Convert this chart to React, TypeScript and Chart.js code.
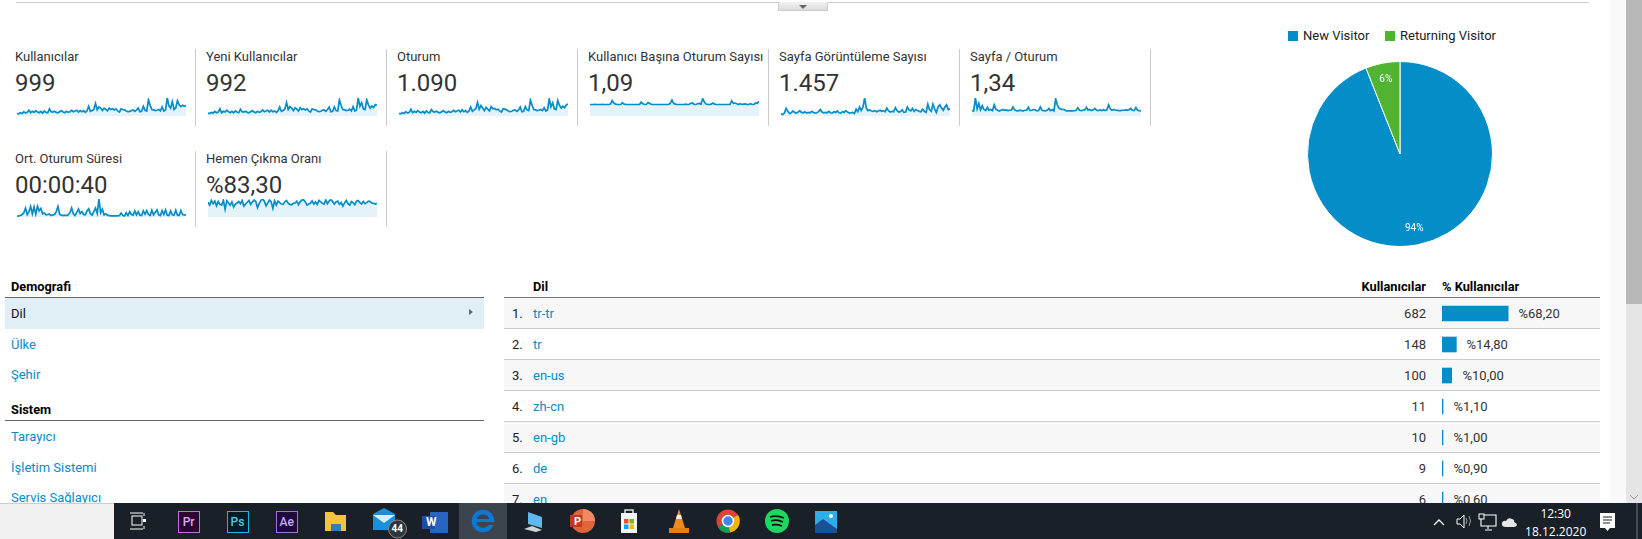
import React, { useEffect, useRef } from "react";
import { Chart, registerables } from "chart.js";

Chart.register(...registerables);

const FONT = "Roboto, sans-serif";
const BLUE = "#058dc7";
const GREEN = "#50b432";

const metricTitles = ["Kullanıcılar", "Yeni Kullanıcılar", "Oturum", "Kullanıcı Başına Oturum Sayısı", "Sayfa Görüntüleme Sayısı", "Sayfa / Oturum", "Ort. Oturum Süresi", "Hemen Çıkma Oranı"];
const metricValues = ["999", "992", "1.090", "1,09", "1.457", "1,34", "00:00:40", "%83,30"];

const usersSeries = [14,12,18,14,24,16,20,32,18,26,20,30,22,18,26,16,28,20,18,40,24,22,26,20,18,24,30,22,18,26,20,24,32,24,28,32,22,30,24,30,20,28,54,26,30,36,70,34,50,44,30,44,38,28,44,36,40,34,40,28,22,40,36,34,28,24,26,30,34,26,34,44,24,26,54,32,28,90,60,36,34,30,32,36,28,50,28,34,100,56,44,80,36,46,85,62,52,60,54,58];
const newUsersSeries = [16,14,20,16,26,18,22,40,18,26,22,32,24,18,26,18,28,22,18,38,24,22,26,20,18,24,30,22,18,26,20,24,34,24,28,32,22,32,24,28,20,28,50,26,30,38,75,36,52,44,30,46,38,28,46,36,40,34,40,28,22,40,36,34,28,24,26,32,34,26,36,50,24,26,50,30,28,90,58,36,34,30,32,38,28,52,28,34,100,54,74,40,36,90,62,44,56,48,64,60];
const sessionsSeries = [14,12,18,14,24,16,20,38,18,26,20,30,22,18,26,16,28,20,18,36,24,22,26,20,18,24,30,22,18,26,20,24,32,24,28,32,22,34,24,30,20,28,50,26,34,40,76,38,58,44,30,48,38,28,52,40,42,34,38,28,22,40,38,34,28,24,26,32,34,26,34,50,24,26,52,34,30,88,58,36,34,30,32,36,30,46,28,34,96,52,74,40,36,86,60,44,54,46,62,66];
const perUserSeries = [64,64,64,65,64,64,64,65,64,64,64,64,66,85,72,66,64,64,64,74,66,64,64,64,64,64,64,64,64,64,77,68,64,64,75,70,64,64,64,64,64,64,64,64,64,64,64,70,88,70,66,64,64,64,64,64,66,64,64,70,72,64,64,68,70,66,96,78,67,64,64,66,72,66,64,64,64,64,64,64,64,64,64,85,70,72,68,64,68,64,66,67,64,64,68,64,64,72,70,81];
const pageViewsSeries = [12,8,16,43,26,14,18,28,20,16,22,30,20,18,24,16,20,18,26,20,16,18,24,36,22,18,20,18,26,18,16,24,20,28,18,16,24,20,30,22,16,18,20,14,38,24,50,30,50,100,44,30,34,28,26,30,24,28,32,26,30,24,44,28,22,26,24,46,30,22,24,34,20,22,50,34,28,42,26,36,30,26,24,38,26,20,66,36,26,66,40,20,50,62,46,32,50,62,36,40];
const perSessionSeries = [30,28,100,40,70,34,57,36,30,48,32,36,30,62,38,32,28,32,36,32,34,30,32,32,50,34,30,28,32,30,28,32,32,48,30,32,36,34,28,30,50,32,30,28,32,42,30,36,28,95,62,44,38,36,36,30,28,28,30,28,30,32,46,32,30,32,34,48,32,36,30,34,42,32,30,34,30,36,30,34,62,40,32,36,32,32,30,30,32,32,34,32,36,42,32,30,47,32,30,28];
const durationSeries = [4,6,8,14,24,50,14,30,58,18,56,16,60,34,48,18,22,12,14,16,8,12,14,30,58,14,10,8,10,8,12,24,50,18,8,26,44,20,30,14,12,34,46,18,10,30,50,20,100,24,44,12,18,10,8,6,6,6,6,6,8,22,8,6,24,8,30,14,10,34,12,30,10,8,34,16,36,14,8,38,12,26,40,12,8,36,14,40,10,8,34,12,10,38,10,8,36,14,12,10];
const bounceSeries = [82,66,92,74,88,62,86,70,66,92,44,90,78,66,84,56,72,78,86,74,92,60,72,82,92,70,84,94,86,52,74,92,100,88,62,78,94,84,48,90,66,88,80,72,70,84,92,76,70,68,76,78,88,68,84,94,96,84,66,72,76,90,72,84,70,92,84,76,72,94,74,90,96,86,72,84,88,70,80,60,78,92,74,66,86,80,68,88,92,80,72,86,74,80,88,86,78,76,72,76];

const sparkSeries = [usersSeries, newUsersSeries, sessionsSeries, perUserSeries, pageViewsSeries, perSessionSeries, durationSeries, bounceSeries];

const visitorLabels = ["New Visitor", "Returning Visitor"];
const visitorValues = [94, 6];

const demografiItems = ["Dil", "Ülke", "Şehir"];
const sistemItems = ["Tarayıcı", "İşletim Sistemi", "Servis Sağlayıcı"];
const languages = ["tr-tr", "tr", "en-us", "zh-cn", "en-gb", "de", "en"];
const languageUsers = [682, 148, 100, 11, 10, 9, 6];
const languageShare = [68.2, 14.8, 10.0, 1.1, 1.0, 0.9, 0.6];
const languageShareText = ["%68,20", "%14,80", "%10,00", "%1,10", "%1,00", "%0,90", "%0,60"];

const metricLefts = [15, 206, 397, 588, 779, 970, 15, 206];
const sparkLefts = [17, 208, 399, 590, 781, 972, 17, 208];
const dividerXs = [195, 386, 577, 768, 959, 1150];

function T(p: { x: number; y: number; s?: number; c?: string; b?: boolean; r?: boolean; f?: string; children: React.ReactNode }) {
  const lh = 20;
  const style: React.CSSProperties = {
    position: "absolute",
    top: p.y - lh / 2,
    lineHeight: lh + "px",
    fontSize: p.s ?? 13,
    color: p.c ?? "#222",
    fontWeight: p.b ? 700 : 400,
    fontFamily: p.f ?? FONT,
    whiteSpace: "nowrap",
  };
  if (p.r) style.right = 1642 - p.x;
  else style.left = p.x;
  return <div style={style}>{p.children}</div>;
}

function Box(p: { x: number; y: number; w: number; h: number; c: string; style?: React.CSSProperties; children?: React.ReactNode }) {
  return <div style={{ position: "absolute", left: p.x, top: p.y, width: p.w, height: p.h, background: p.c, ...p.style }}>{p.children}</div>;
}

function Spark({ data, x, y, w, h }: { data: number[]; x: number; y: number; w: number; h: number }) {
  const ref = useRef<HTMLCanvasElement>(null);
  useEffect(() => {
    const chart = new Chart(ref.current!, {
      type: "line",
      data: {
        labels: data.map((_, i) => i),
        datasets: [{ data, borderColor: BLUE, borderWidth: 1.7, pointRadius: 0, tension: 0, fill: "start", backgroundColor: "rgba(5,141,199,0.11)", clip: false as any }],
      },
      options: {
        animation: false,
        responsive: false,
        layout: { padding: 0 },
        plugins: { legend: { display: false }, tooltip: { enabled: false } },
        scales: {
          x: { display: false, offset: false },
          y: { display: false, min: 0, max: 100 },
        },
      },
    });
    return () => chart.destroy();
  }, []);
  return <canvas ref={ref} width={w} height={h} style={{ position: "absolute", left: x, top: y, width: w, height: h }} />;
}

const pieLabels = {
  id: "pieLabels",
  afterDatasetsDraw(chart: any) {
    const ctx = chart.ctx;
    const meta = chart.getDatasetMeta(0);
    ctx.save();
    ctx.fillStyle = "#fff";
    ctx.font = `10px ${FONT}`;
    ctx.textAlign = "center";
    ctx.textBaseline = "middle";
    meta.data.forEach((arc: any, i: number) => {
      const mid = (arc.startAngle + arc.endAngle) / 2;
      const r = arc.outerRadius * 0.82;
      ctx.fillText(visitorValues[i] + "%", arc.x + Math.cos(mid) * r, arc.y + Math.sin(mid) * r);
    });
    ctx.restore();
  },
};

function Pie() {
  const ref = useRef<HTMLCanvasElement>(null);
  useEffect(() => {
    const chart = new Chart(ref.current!, {
      type: "pie",
      data: {
        labels: visitorLabels,
        datasets: [{ data: visitorValues, backgroundColor: [BLUE, GREEN], borderColor: "#fff", borderWidth: 1 }],
      },
      options: {
        animation: false,
        responsive: false,
        layout: { padding: 0 },
        plugins: { legend: { display: false }, tooltip: { enabled: false } },
      },
      plugins: [pieLabels],
    });
    return () => chart.destroy();
  }, []);
  return <canvas ref={ref} width={186} height={186} style={{ position: "absolute", left: 1307, top: 61, width: 186, height: 186 }} />;
}

function ShareBars() {
  const ref = useRef<HTMLCanvasElement>(null);
  useEffect(() => {
    const chart = new Chart(ref.current!, {
      type: "bar",
      data: {
        labels: languages,
        datasets: [{ data: languageShare, backgroundColor: BLUE, barThickness: 15, minBarLength: 1 }],
      },
      options: {
        indexAxis: "y",
        animation: false,
        responsive: false,
        layout: { padding: 0 },
        plugins: { legend: { display: false }, tooltip: { enabled: false } },
        scales: {
          x: { display: false, min: 0, max: 100 },
          y: { display: false },
        },
      },
    });
    return () => chart.destroy();
  }, []);
  return <canvas ref={ref} width={97} height={217} style={{ position: "absolute", left: 1442, top: 298, width: 97, height: 217 }} />;
}

const ICON_SVG = { position: "absolute", overflow: "visible" } as const;

function Taskbar() {
  const tile = (cx: number, bg: string, border: string, txt: string, col: string) => (
    <div style={{ position: "absolute", left: cx - 11, top: 8, width: 20, height: 20, background: bg, border: `1.5px solid ${border}`, color: col, fontSize: 12, fontFamily: FONT, fontWeight: 500, textAlign: "center", lineHeight: "20px" }}>{txt}</div>
  );
  return (
    <>
      <Box x={0} y={503} w={114} h={36} c="#f0f0f0" style={{ borderTop: "1px solid #ccc", boxSizing: "border-box" }} />
      <Box x={114} y={503} w={1528} h={36} c="#1a2028">
        <Box x={345} y={0} w={48} h={36} c="#3c444e" />
        <svg width={1528} height={36} style={ICON_SVG}>
          <g stroke="#fff" fill="none" strokeWidth="1">
            <rect x="18" y="13" width="10" height="9" />
            <path d="M16 10h13M16 26h13M30 10v3M30 23v3" />
            <rect x="29.5" y="16.5" width="2" height="2" fill="#fff" />
          </g>
          {/* folder */}
          <path d="M211 9h8l3 3h10v16h-21z" fill="#f5c242" />
          <rect x="217" y="21" width="10" height="7" fill="#2f7fc1" />
          {/* mail */}
          <path d="M259 11l11-6 11 6v16h-22z" fill="#1b8fdd" />
          <path d="M259 12l11 8 11-8" fill="#d8eefb" />
          <circle cx="283.5" cy="26" r="9" fill="#30363d" stroke="#888" strokeWidth="1" />
          {/* word */}
          <rect x="316" y="9" width="18" height="21" fill="#2b64c0" />
          <rect x="308" y="13" width="13" height="13" fill="#1c4da8" />
          {/* edge */}
          <circle cx="369" cy="18" r="9" fill="none" stroke="#0a78d7" strokeWidth="4.5" />
          <rect x="369" y="19" width="11" height="3" fill="#3c444e" />
          <rect x="362" y="16" width="14" height="3" fill="#0a78d7" />
          {/* pc */}
          <path d="M414 9l14 5v11l-14-4z" fill="#5fb8ee" />
          <path d="M410 26l8-3 10 4-6 2z" fill="#cfd4d8" />
          {/* powerpoint */}
          <circle cx="469" cy="18" r="12" fill="#e0643a" />
          <path d="M469 18v-12a12 12 0 0 1 12 12z" fill="#f08a65" />
          <rect x="456" y="12" width="12" height="12" fill="#c03b1e" />
          {/* store */}
          <rect x="507" y="10" width="16" height="20" fill="#f4f4f4" />
          <path d="M511 10v-3h8v3" stroke="#ddd" fill="none" strokeWidth="1.5" />
          <rect x="510" y="16" width="4.5" height="4.5" fill="#f25022" />
          <rect x="515.5" y="16" width="4.5" height="4.5" fill="#7fba00" />
          <rect x="510" y="21.5" width="4.5" height="4.5" fill="#00a4ef" />
          <rect x="515.5" y="21.5" width="4.5" height="4.5" fill="#ffb900" />
          {/* vlc */}
          <path d="M565 6l6 19h-12z" fill="#f08a18" />
          <path d="M563 12h4l1 4h-6z" fill="#eee" />
          <rect x="555" y="25" width="20" height="5" fill="#e87d0d" />
          {/* chrome */}
          <circle cx="614" cy="18" r="11.5" fill="#db4437" />
          <path d="M614 18l-10 6a11.5 11.5 0 0 0 12 5.5z" fill="#0f9d58" />
          <path d="M614 18l10-6a11.5 11.5 0 0 1-8 17.5z" fill="#f4b400" />
          <circle cx="614" cy="18" r="5.5" fill="#4285f4" stroke="#fff" strokeWidth="1.5" />
          {/* spotify */}
          <circle cx="663" cy="18" r="12" fill="#1ed760" />
          <path d="M656 14q7-2 14 1M657 18q6-2 12 1M658 22q5-1 10 1" stroke="#111" strokeWidth="1.8" fill="none" />
          {/* photos */}
          <rect x="701" y="8" width="22" height="22" fill="#2eaee8" />
          <path d="M701 30v-8l8-6 14 10v4z" fill="#1b4f96" />
          <circle cx="717" cy="13" r="2" fill="#fff" />
          {/* tray */}
          <path d="M1320 22l5-5 5 5" stroke="#fff" fill="none" strokeWidth="1.3" />
          <path d="M1343 16h3l4-4v13l-4-4h-3z" stroke="#fff" fill="none" strokeWidth="1" />
          <path d="M1352 15q2 3 0 6M1355 13q3 5 0 10" stroke="#999" fill="none" />
          <path d="M1367 12h15v11h-15zM1374 23v3M1371 27h7" stroke="#fff" fill="none" strokeWidth="1.1" />
          <rect x="1365" y="11" width="5" height="5" stroke="#fff" fill="#1a2028" strokeWidth="1" />
          <path d="M1391 24q-4-1-3-4 1-3 4-2 2-4 6-2 3 1 2 3 3 1 3 3-1 2-3 2z" fill="#e6e6e6" />
          <path d="M1486 10h15v15h-5l-2.500 3-2.500-3h-5z" fill="#fff" />
          <path d="M1489 14h9M1489 17h9M1489 20h7" stroke="#1a2028" strokeWidth="1" />
          <path d="M1523 0v36" stroke="#777" />
        </svg>
      </Box>
      <div style={{ position: "absolute", left: 0, top: 503 }}>
        {tile(188.6, "#2a0632", "#c86ee0", "Pr", "#e3a6f5")}
        {tile(237.5, "#001d26", "#22b5e8", "Ps", "#4fc9f2")}
        {tile(286.8, "#1c0a3a", "#a56ee8", "Ae", "#c9a8f5")}
      </div>
      <T x={397.5} y={529} s={10} c="#fff" b>
        <span style={{ display: "block", transform: "translateX(-6px)" }}>44</span>
      </T>
      <T x={426} y={522} s={12} c="#fff" b>W</T>
      <T x={574} y={522} s={11} c="#fff" b>P</T>
      <T x={1555.700} y={513.500} s={12} c="#fff" f="'Open Sans', sans-serif">
        <span style={{ display: "block", transform: "translateX(-50%)" }}>12:30</span>
      </T>
      <T x={1555.700} y={531.500} s={12} c="#fff" f="'Open Sans', sans-serif">
        <span style={{ display: "block", transform: "translateX(-50%)" }}>18.12.2020</span>
      </T>
    </>
  );
}

export default function App() {
  const rowYs = [298, 329, 360, 391, 422, 453, 484];
  return (
    <div style={{ position: "fixed", left: 0, top: 0, width: 1642, height: 539, overflow: "hidden", background: "#fff" }}>
      {/* page chrome */}
      <Box x={16} y={2} w={1573} h={1} c="#ccc" />
      <Box x={778} y={2} w={50} h={9} c="#e6e6e6" style={{ background: "linear-gradient(#f2f2f2,#dcdcdc)", border: "1px solid #ccc", borderTop: "none", boxSizing: "border-box" }} />
      <div style={{ position: "absolute", left: 799, top: 5, width: 0, height: 0, borderLeft: "4px solid transparent", borderRight: "4px solid transparent", borderTop: "4px solid #666" }} />
      <Box x={1610} y={0} w={16} h={503} c="#f8f9fa" />
      <Box x={1626} y={0} w={16} h={503} c="#e5e5e5" />
      <Box x={1626} y={0} w={16} h={304} c="#b8b8b8" />
      <svg width={16} height={8} style={{ position: "absolute", left: 1626, top: 493 }}>
        <path d="M4 2l4 4 4-4" stroke="#999" fill="none" />
      </svg>

      {/* metric tiles */}
      {metricTitles.map((t, i) => {
        const row2 = i >= 6;
        return (
          <React.Fragment key={t}>
            <T x={metricLefts[i]} y={row2 ? 158.500 : 56.500} s={13} c="#333">{t}</T>
            <T x={metricLefts[i]} y={row2 ? 185 : 83} s={24} c="#333">{metricValues[i]}</T>
            <Spark data={sparkSeries[i]} x={sparkLefts[i]} y={row2 ? 199 : 98} w={169} h={18} />
          </React.Fragment>
        );
      })}
      {dividerXs.map((x) => <Box key={x} x={x} y={49} w={1} h={77} c="#ccc" />)}
      <Box x={195} y={151} w={1} h={76} c="#ccc" />
      <Box x={386} y={151} w={1} h={76} c="#ccc" />

      {/* pie */}
      <Box x={1288} y={31} w={10} h={10} c={BLUE} />
      <T x={1303} y={36} s={13} c="#222">{visitorLabels[0]}</T>
      <Box x={1385} y={31} w={10} h={10} c={GREEN} />
      <T x={1400} y={36} s={13} c="#222">{visitorLabels[1]}</T>
      <Pie />

      {/* left nav */}
      <T x={11} y={286.500} s={12.800} c="#000" b>Demografi</T>
      <Box x={5} y={297} w={479} h={1} c="#666" />
      <Box x={5} y={298} w={479} h={31} c="#e0eef5" />
      {demografiItems.map((t, i) => (
        <T key={t} x={11} y={[314, 345, 375][i]} s={13} c={i === 0 ? "#111" : BLUE}>{t}</T>
      ))}
      <div style={{ position: "absolute", left: 469, top: 309, width: 0, height: 0, borderTop: "3.5px solid transparent", borderBottom: "3.5px solid transparent", borderLeft: "4px solid #666" }} />
      <T x={11} y={409.500} s={12.800} c="#000" b>Sistem</T>
      <Box x={5} y={420} w={479} h={1} c="#666" />
      {sistemItems.map((t, i) => (
        <T key={t} x={11} y={[436.500, 467.500, 498][i]} s={13} c={BLUE}>{t}</T>
      ))}

      {/* table */}
      <T x={533} y={286.500} s={12.800} c="#000" b>Dil</T>
      <T x={1426} y={286.500} s={12.800} c="#000" b r>Kullanıcılar</T>
      <T x={1442} y={286.500} s={12.800} c="#000" b>% Kullanıcılar</T>
      <Box x={504} y={297} w={1096} h={1} c="#777" />
      {languages.map((l, i) => (
        <React.Fragment key={l}>
          <Box x={504} y={rowYs[i]} w={1096} h={30} c={i % 2 === 0 ? "#f7f7f7" : "#fff"} />
          <Box x={504} y={rowYs[i] + 30} w={1096} h={1} c="#ccc" />
        </React.Fragment>
      ))}
      {languages.map((l, i) => (
        <React.Fragment key={l + "t"}>
          <T x={512} y={rowYs[i] + 15.500} s={13} c="#222">{i + 1}.</T>
          <T x={533} y={rowYs[i] + 15.500} s={13} c={BLUE}>{l}</T>
          <T x={1426} y={rowYs[i] + 15.500} s={13} c="#333" r>{languageUsers[i]}</T>
          <T x={1442 + Math.max(1, Math.round(languageShare[i] * 0.97)) + 10.500} y={rowYs[i] + 15.500} s={13} c="#333">{languageShareText[i]}</T>
        </React.Fragment>
      ))}
      <ShareBars />

      <Taskbar />
    </div>
  );
}
